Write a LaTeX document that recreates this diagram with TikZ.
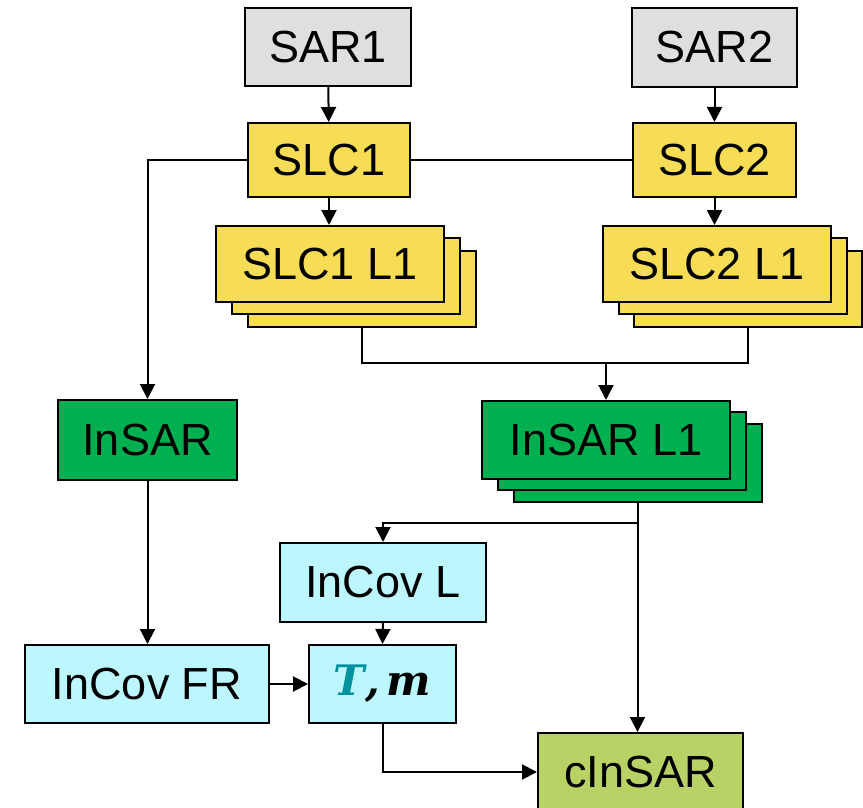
\documentclass[tikz,border=0pt]{standalone}
\usepackage{fontspec}
\setmainfont{Liberation Sans}
\newfontfamily\tmfont{DejaVu Serif}
\usetikzlibrary{arrows.meta}
\definecolor{cgray}{HTML}{DFDFDF}
\definecolor{cyell}{HTML}{F7DD55}
\definecolor{cgreen}{HTML}{00B050}
\definecolor{ccyan}{HTML}{BCF7FF}
\definecolor{colive}{HTML}{B8D265}
\definecolor{cteal}{HTML}{00919E}
\newcommand{\tmlabel}{{\tmfont\bfseries\itshape\fontsize{42}{50}\selectfont\textcolor{cteal}{T},\kern7pt m}}
\begin{document}
\begin{tikzpicture}[x=1pt,y=-1pt,
  box/.style={draw=black, line width=2pt, inner sep=0pt, font=\fontsize{45}{54}\selectfont},
  arr/.style={line width=2pt, -{Triangle[width=15pt,length=15pt]}},
  con/.style={line width=2pt}]
\clip (0,0) rectangle (863,808);
% top row
\node[box, fill=cgray, minimum width=166pt, minimum height=78pt] (sar1) at (328,47) {SAR1};
\node[box, fill=cgray, minimum width=165pt, minimum height=79pt] (sar2) at (714.5,47.5) {SAR2};
\node[box, fill=cyell, minimum width=162pt, minimum height=74pt] (slc1) at (329,160) {SLC1};
\node[box, fill=cyell, minimum width=163pt, minimum height=74pt] (slc2) at (714.5,160) {SLC2};
% SLC1 L1 stack
\node[box, fill=cyell, minimum width=228pt, minimum height=76pt] (slcAc) at (361.5,289) {};
\node[box, fill=cyell, minimum width=228pt, minimum height=76pt] (slcAb) at (345.5,276) {};
\node[box, fill=cyell, minimum width=228pt, minimum height=76pt] (slcA) at (330,264) {SLC1 L1};
% SLC2 L1 stack
\node[box, fill=cyell, minimum width=228pt, minimum height=76pt] (slcBc) at (747.5,289) {};
\node[box, fill=cyell, minimum width=228pt, minimum height=76pt] (slcBb) at (732.5,276) {};
\node[box, fill=cyell, minimum width=228pt, minimum height=76pt] (slcB) at (717,264) {SLC2 L1};
% InSAR
\node[box, fill=cgreen, minimum width=179pt, minimum height=80pt] (insar) at (147.5,440) {InSAR};
% InSAR L1 stack
\node[box, fill=cgreen, minimum width=248pt, minimum height=78pt] (insLc) at (637.5,463) {};
\node[box, fill=cgreen, minimum width=248pt, minimum height=78pt] (insLb) at (622,451) {};
\node[box, fill=cgreen, minimum width=248pt, minimum height=78pt] (insL) at (606,440) {InSAR L1};
% lower part
\node[box, fill=ccyan, minimum width=206pt, minimum height=79pt] (incovL) at (383,582.5) {InCov L};
\node[box, fill=ccyan, minimum width=244pt, minimum height=78pt] (incovFR) at (147,684) {InCov FR};
\node[box, fill=ccyan, minimum width=147pt, minimum height=78pt] (tm) at (382.5,684) {\tmlabel};
\node[box, fill=colive, minimum width=205pt, minimum height=78pt] (cinsar) at (640.5,772) {cInSAR};
% connectors
\draw[arr] (sar1) -- (slc1);
\draw[arr] (sar2) -- (slc2);
\draw[con] (slc1.east) -- (slc2.west);
\draw[arr] (slc1.west) -| (insar.north);
\draw[arr] (slc1.south) -- (slc1.south |- slcA.north);
\draw[arr] (slc2.south) -- (slc2.south |- slcB.north);
\coordinate (jA) at (361.5,363);
\coordinate (jB) at (747.5,363);
\coordinate (jC) at (606,363);
\draw[con] (slcAc.south) -- (jA) -- (jB) -- (slcBc.south);
\draw[arr] (jC) -- (insL.north);
\coordinate (jD) at (637.5,523);
\draw[arr] (insLc.south) -- (insLc.south |- cinsar.north);
\draw[arr] (jD) -| (incovL.north);
\draw[arr] (incovL.south) -- (tm.north);
\draw[arr] (insar.south) -- (insar.south |- incovFR.north);
\draw[arr] (incovFR.east) -- (tm.west);
\draw[arr] (tm.south) |- (cinsar.west);
\end{tikzpicture}
\end{document}
